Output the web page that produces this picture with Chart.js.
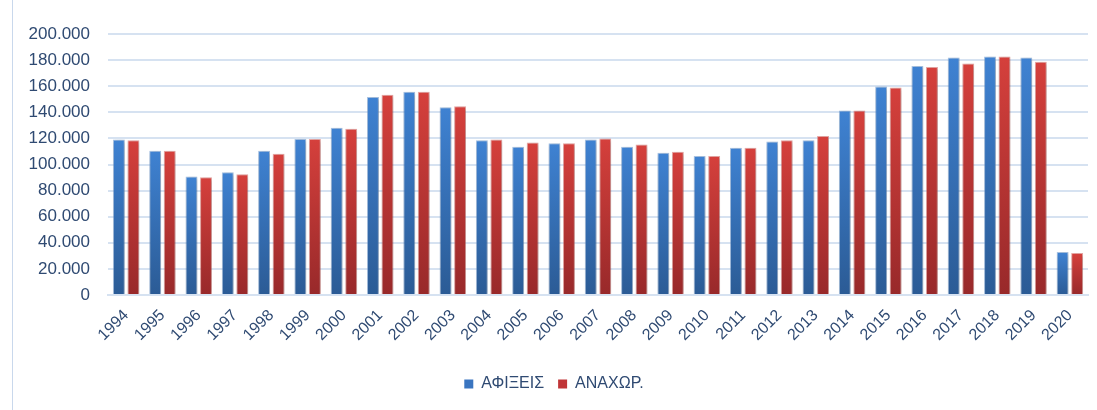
<!DOCTYPE html>
<html>
<head>
<meta charset="utf-8">
<script src="https://cdn.jsdelivr.net/npm/chart.js@4"></script>
<style>
  html, body { margin: 0; padding: 0; background: #fff; }
  #wrap { position: relative; width: 1097px; height: 410px; }
  #frame { position: absolute; left: 12px; top: 0; width: 1px; height: 410px; background: #c9d8ec; }
</style>
</head>
<body>
<div id="wrap">
  <div id="frame"></div>
  <canvas id="portChart" width="1097" height="410"></canvas>
</div>
<script>
const years = ["1994", "1995", "1996", "1997", "1998", "1999", "2000", "2001", "2002",
  "2003", "2004", "2005", "2006", "2007", "2008", "2009", "2010", "2011", "2012",
  "2013", "2014", "2015", "2016", "2017", "2018", "2019", "2020"];

const arrivals = [119200, 110600, 90900, 94000, 110600, 119500, 128100, 151800, 155700,
  143900, 118500, 113600, 116200, 119200, 113600, 109000, 106500, 112900, 117700,
  118500, 141400, 159700, 175500, 181900, 182700, 181900, 32900];

const departures = [118500, 110600, 90200, 92500, 108300, 119500, 127400, 153400, 155700,
  144700, 119200, 116900, 116200, 120000, 115400, 109800, 106500, 112900, 118500,
  121800, 141400, 159000, 174800, 177300, 182700, 178800, 32100];

const yTicks = [0, 20000, 40000, 60000, 80000, 100000, 120000, 140000, 160000, 180000, 200000];

const barGradient = (top, bottom) => (context) => {
  const chart = context.chart;
  const yScale = chart.scales.y;
  if (!chart.chartArea || !yScale || context.parsed === undefined) return top;
  const y0 = yScale.getPixelForValue(context.parsed.y);
  const y1 = yScale.getPixelForValue(0);
  const g = chart.ctx.createLinearGradient(0, y0, 0, y1);
  g.addColorStop(0, top);
  g.addColorStop(1, bottom);
  return g;
};

// soft shadow behind bars, like the office chart
const barShadow = {
  id: "barShadow",
  beforeDatasetsDraw(chart) {
    chart.ctx.save();
    chart.ctx.shadowColor = "rgba(0,0,0,0.28)";
    chart.ctx.shadowBlur = 4;
    chart.ctx.shadowOffsetX = 1;
    chart.ctx.shadowOffsetY = 1;
  },
  afterDatasetsDraw(chart) {
    chart.ctx.restore();
  },
};

const tickColor = "#2f4a72";
const fontFamily = "'Liberation Sans', Arial, sans-serif";

new Chart(document.getElementById("portChart").getContext("2d"), {
  type: "bar",
  data: {
    labels: years,
    datasets: [
      {
        label: "ΑΦΙΞΕΙΣ",
        data: arrivals,
        backgroundColor: barGradient("#3f82d2", "#2b5b95"),
        borderColor: "rgba(120,165,220,0.6)",
        borderWidth: { top: 1, left: 1, right: 1, bottom: 0 },
        categoryPercentage: 0.8,
        barPercentage: 0.82,
      },
      {
        label: "ΑΝΑΧΩΡ.",
        data: departures,
        backgroundColor: barGradient("#d5403c", "#98292a"),
        borderColor: "rgba(230,120,115,0.6)",
        borderWidth: { top: 1, left: 1, right: 1, bottom: 0 },
        categoryPercentage: 0.8,
        barPercentage: 0.82,
      },
    ],
  },
  plugins: [barShadow],
  options: {
    responsive: false,
    animation: false,
    layout: {
      padding: { top: 34, left: 20, right: 9, bottom: 8 },
    },
    plugins: {
      title: { display: false },
      tooltip: { enabled: false },
      legend: {
        position: "bottom",
        labels: {
          boxWidth: 9,
          boxHeight: 9,
          padding: 14,
          color: tickColor,
          font: { family: fontFamily, size: 16 },
          generateLabels(chart) {
            const fills = ["#3a75c0", "#c03537"];
            return chart.data.datasets.map((ds, i) => ({
              text: ds.label,
              fillStyle: fills[i],
              strokeStyle: fills[i],
              lineWidth: 0,
              datasetIndex: i,
              fontColor: tickColor,
            }));
          },
        },
      },
    },
    scales: {
      x: {
        grid: { display: false },
        border: { display: true, color: "#d6e2f1", width: 2 },
        ticks: {
          color: tickColor,
          minRotation: 45,
          maxRotation: 45,
          padding: 3,
          font: { family: fontFamily, size: 16 },
        },
        afterFit(scale) {
          scale.height = 67;
        },
      },
      y: {
        min: 0,
        max: 200000,
        afterBuildTicks(scale) {
          scale.ticks = yTicks.map((v) => ({ value: v }));
        },
        grid: { color: "#d6e2f1", lineWidth: 2, drawTicks: false },
        border: { display: false },
        ticks: {
          color: tickColor,
          padding: 18,
          font: { family: fontFamily, size: 17 },
          callback: (v) => v.toLocaleString("de-DE"),
        },
        afterFit(scale) {
          scale.width = 88;
        },
      },
    },
  },
});
</script>
</body>
</html>
